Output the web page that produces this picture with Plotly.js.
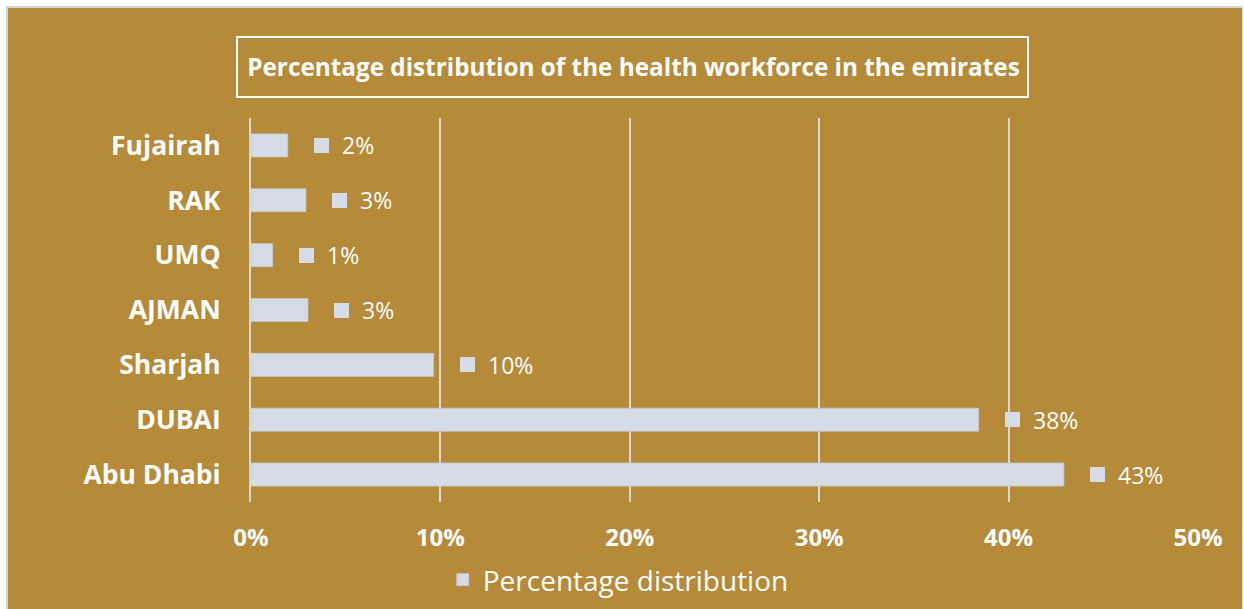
<!DOCTYPE html>
<html>
<head>
<meta charset="utf-8">
<script src="https://cdn.plot.ly/plotly-3.0.1.min.js"></script>
<style>
  html, body { margin: 0; padding: 0; background: #ffffff; width: 1244px; height: 609px; overflow: hidden; }
  #frame { position: absolute; left: 6px; top: 6px; width: 1237px; height: 603px;
           border-left: 2px solid #d4d4d4; border-top: 2px solid #d4d4d4; border-right: 1px solid #e6e6e6;
           box-sizing: border-box; background: #B58A38; }
  #chart { position: absolute; left: 8px; top: 8px; width: 1235px; height: 601px; }
</style>
</head>
<body>
<div id="frame"></div>
<div id="chart"></div>
<script>
// Data (bottom-to-top order on the chart)
const categories = ["Abu Dhabi", "DUBAI", "Sharjah", "AJMAN", "UMQ", "RAK", "Fujairah"];
const values = [42.92, 38.42, 9.64, 3.01, 1.14, 2.90, 1.94];
const valueLabels = ["43%", "38%", "10%", "3%", "1%", "3%", "2%"];
const seriesName = "Percentage distribution";
const xTicks = [0, 10, 20, 30, 40, 50];
const xTickLabels = ["0%", "10%", "20%", "30%", "40%", "50%"];
const chartTitle = "Percentage distribution of the health workforce in the emirates";

const BAR = "#D6DCE5";
const GRID = "#D9D9D9";
const FONT = "Open Sans, DejaVu Sans, sans-serif";

const trace = {
  type: "bar",
  orientation: "h",
  y: categories,
  x: values,
  name: seriesName,
  width: 0.42,
  marker: { color: BAR, line: { color: "#C4C8CE", width: 0.8 } },
  hoverinfo: "skip",
  showlegend: true
};

const annotations = [];
categories.forEach((c, i) => {
  annotations.push({
    x: values[i], y: c, xref: "x", yref: "y",
    text: " ", showarrow: false,
    xanchor: "left", yanchor: "middle",
    xshift: 26, width: 15, height: 15,
    bgcolor: BAR, borderpad: 0, borderwidth: 0
  });
  annotations.push({
    x: values[i], y: c, xref: "x", yref: "y",
    text: valueLabels[i], showarrow: false,
    xanchor: "left", yanchor: "middle",
    xshift: 52, yshift: 0,
    font: { family: FONT, size: 23, color: "#FFFFFF" }
  });
});

const layout = {
  width: 1235, height: 601,
  paper_bgcolor: "rgba(0,0,0,0)",
  plot_bgcolor: "rgba(0,0,0,0)",
  margin: { l: 243, r: 45, t: 110, b: 107, pad: 0, autoexpand: false },
  font: { family: FONT, color: "#FFFFFF" },
  title: {
    text: "<b>" + chartTitle + "</b>",
    font: { family: FONT, size: 24.3, color: "#FFFFFF" },
    x: 0.5065, xanchor: "center", xref: "container",
    y: 0.9018, yanchor: "middle", yref: "container"
  },
  xaxis: {
    range: [0, 50],
    tickvals: xTicks,
    ticktext: xTickLabels,
    showgrid: true, gridcolor: GRID, gridwidth: 2,
    zeroline: false, showline: false, automargin: false,
    ticks: "", ticklabelstandoff: 19,
    tickfont: { family: FONT, size: 24, color: "#FFFFFF", weight: "bold" },
    fixedrange: true
  },
  yaxis: {
    type: "category",
    categoryorder: "array", categoryarray: categories,
    showgrid: false, zeroline: false, showline: true, automargin: false,
    linecolor: GRID, linewidth: 2,
    ticks: "", ticklabelstandoff: 23,
    tickfont: { family: FONT, size: 26.5, color: "#FFFFFF", weight: "bold" },
    fixedrange: true
  },
  bargap: 0.58,
  showlegend: true,
  legend: {
    orientation: "h",
    x: 0.3878, xanchor: "center", xref: "paper",
    y: -0.203, yanchor: "middle", yref: "paper",
    font: { family: FONT, size: 28, color: "#FFFFFF" },
    bgcolor: "rgba(0,0,0,0)"
  },
  shapes: [{
    type: "rect", xref: "paper", yref: "paper",
    x0: -0.0148, x1: 0.8205, y0: 1.0547, y1: 1.2109,
    line: { color: "#FFFFFF", width: 2 }, fillcolor: "rgba(0,0,0,0)"
  }],
  annotations: annotations
};

Plotly.newPlot("chart", [trace], layout, { staticPlot: true, displayModeBar: false });
</script>
</body>
</html>
